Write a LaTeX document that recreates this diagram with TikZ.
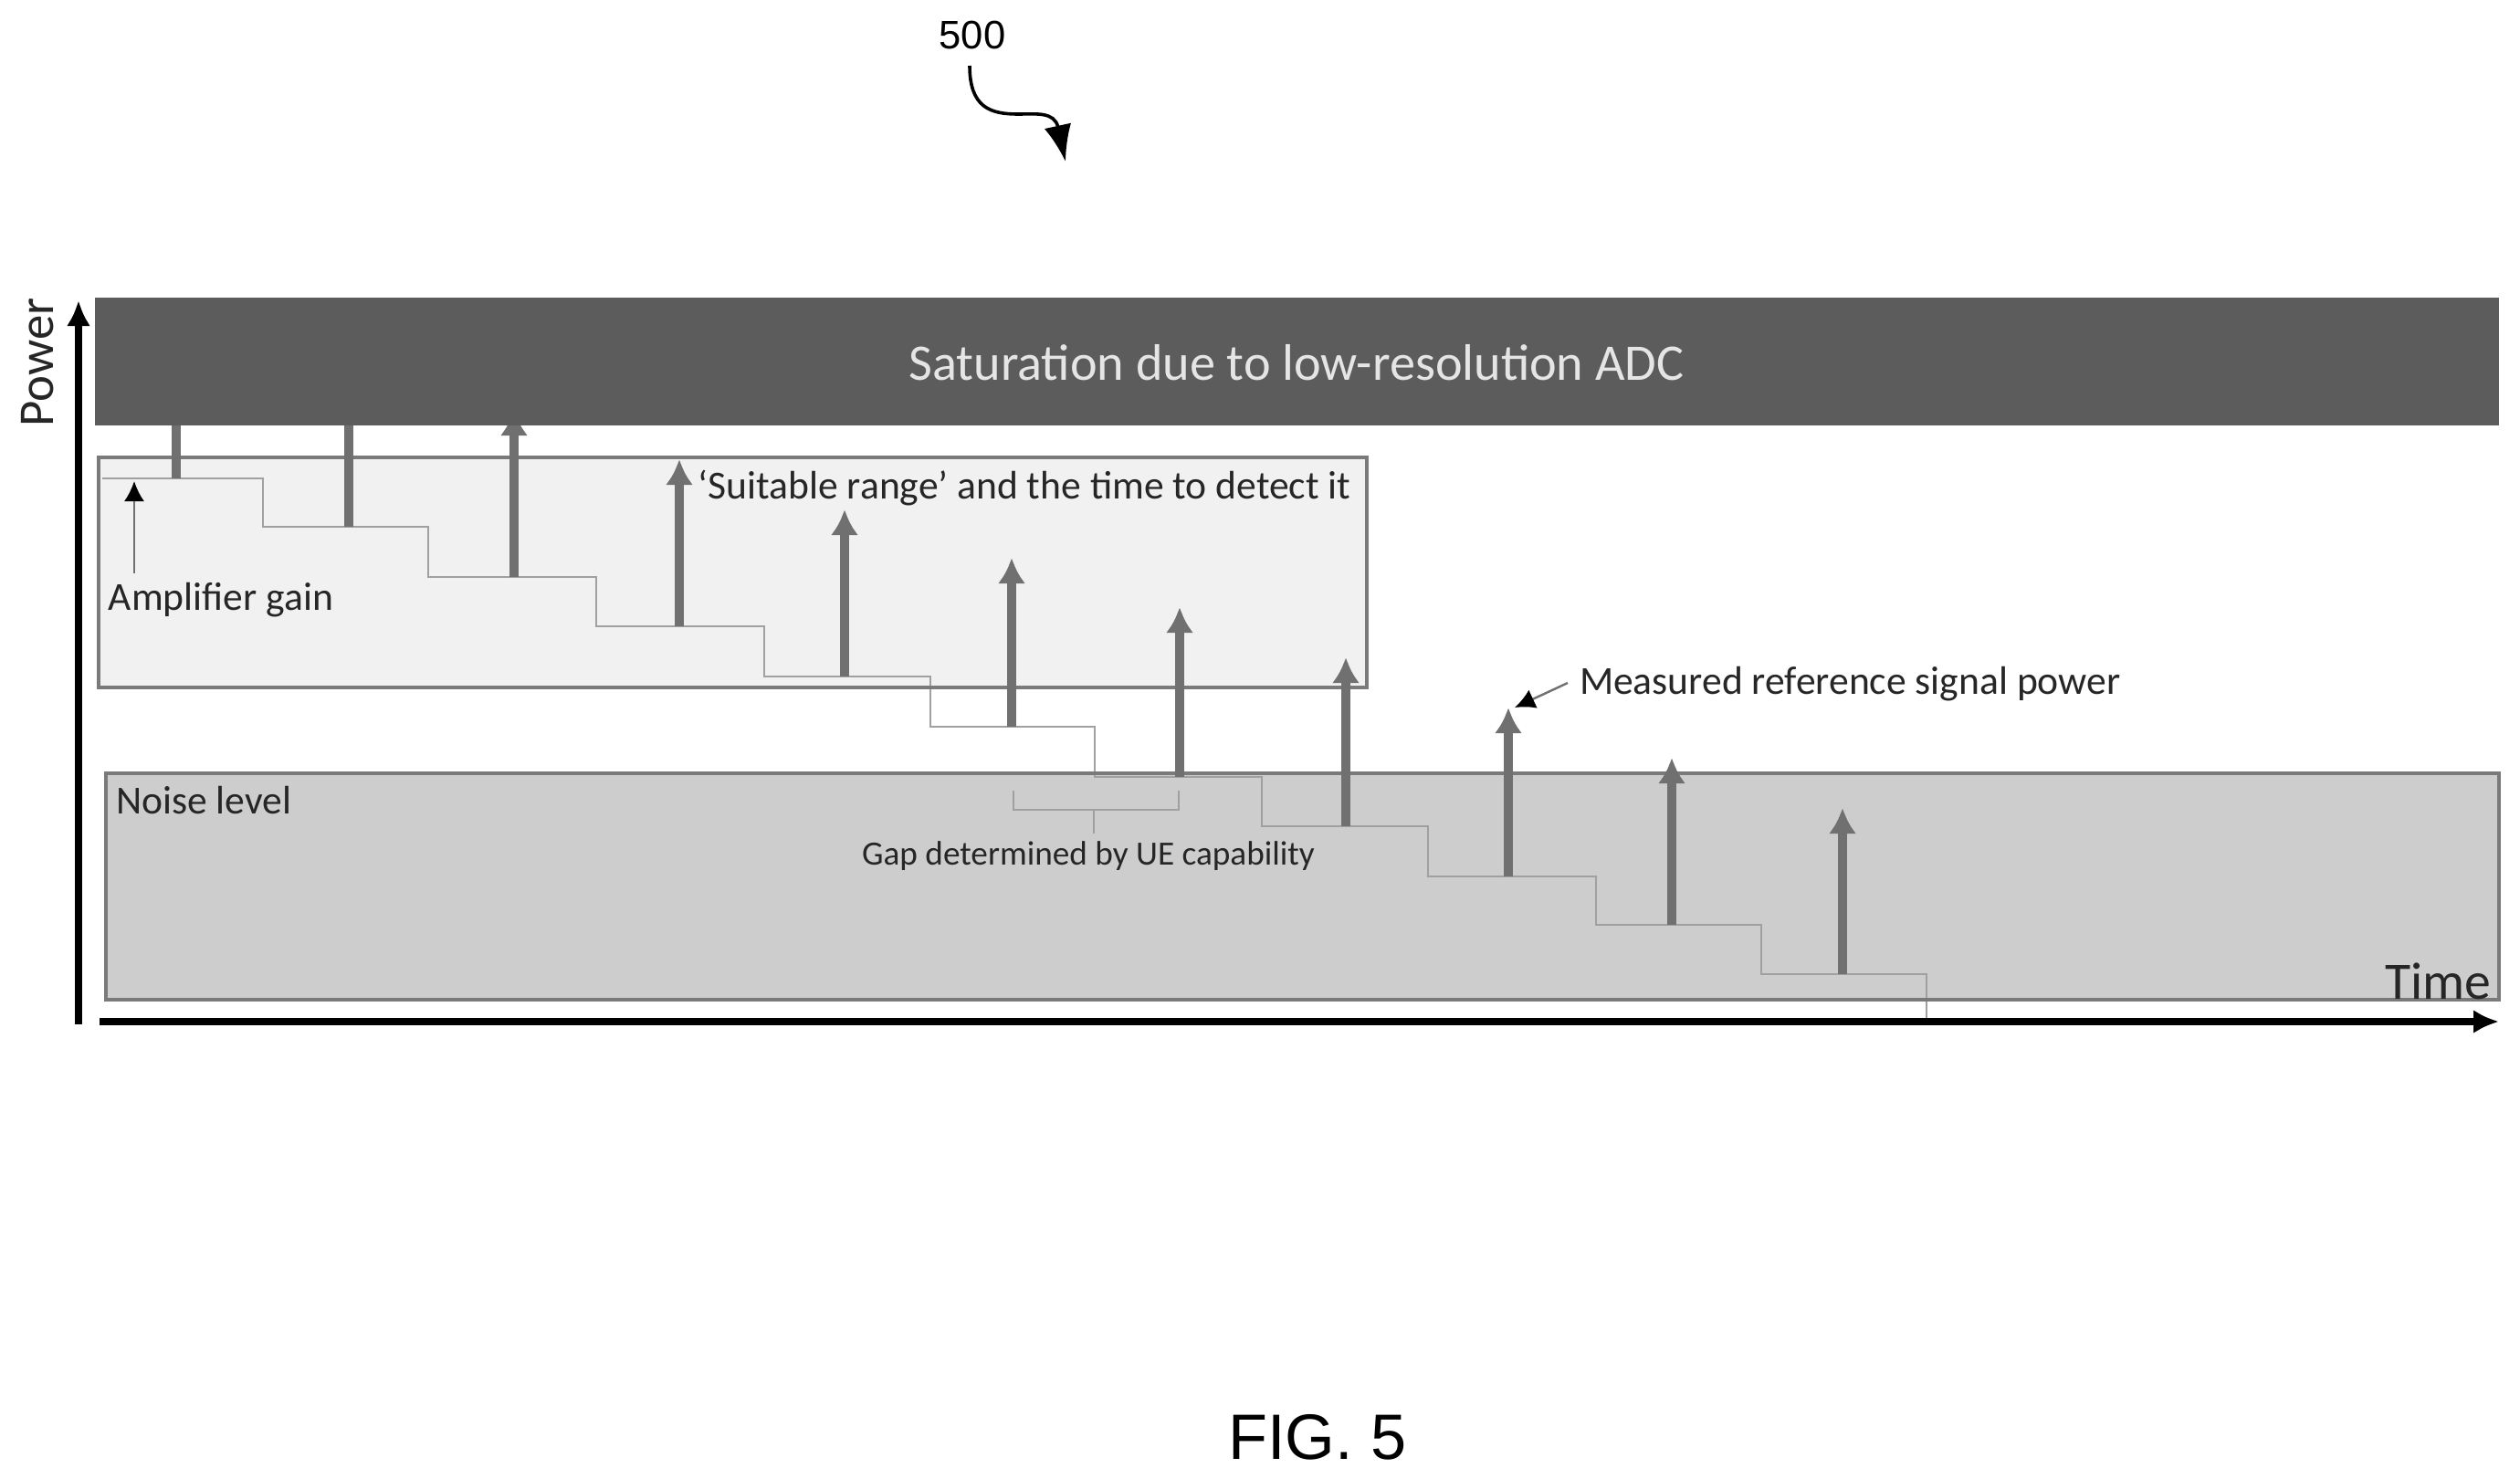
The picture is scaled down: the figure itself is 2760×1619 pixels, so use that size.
\documentclass[tikz,border=0pt]{standalone}
\usepackage{fontspec}
\setmainfont{Carlito}
\newfontfamily\figfont{Liberation Sans}
\usetikzlibrary{arrows.meta}
\definecolor{bandc}{HTML}{5C5C5C}
\definecolor{sigc}{HTML}{707070}
\definecolor{edgec}{HTML}{7A7A7A}
\definecolor{stairc}{HTML}{A0A0A0}
\definecolor{noisec}{HTML}{CDCDCD}
\definecolor{rangec}{HTML}{F1F1F1}
\definecolor{inkc}{HTML}{262626}
\tikzset{
  x=0.25mm,y=-0.25mm,
  lbl/.style={inner sep=0,outer sep=0,text=inkc,font=\fontsize{#1}{#1}\selectfont},
  axisline/.style={black,line width=1.9mm,-{Latex[length=7mm,width=6.5mm]}},
  signal/.style={sigc,line width=2.3mm,-{Latex[length=7mm,width=7.5mm]}},
  pointer/.style={sigc,line width=0.6mm,-{Latex[length=5.5mm,width=5.5mm,black]}},
  stairline/.style={stairc,line width=0.6mm},
}
\begin{document}
\begin{tikzpicture}
\useasboundingbox[fill=white] (0,0) rectangle (2760,1619);
% reference numeral
\node[lbl=31,text=black,font=\figfont\fontsize{31}{31}\selectfont] (num) at (1065,38) {500};
\coordinate (numA) at (1062,72);
\coordinate (numB) at (1167,177);
\draw[black,line width=0.9mm,-{Latex[length=10mm,width=7.5mm]}] (numA) .. controls (1062,118) and (1085,125) .. (1115,125) .. controls (1135,125) and (1155,122) .. (numB);
% zones
\fill[rangec] (108,501) rectangle (1497,753);
\fill[noisec] (116,847) rectangle (2737,1095);
% stairs
\coordinate (s0) at (112,524);
\draw[stairline] (s0) -- (288,524) |- (469,577) |- (653,632) |- (837,686) |- (1019,741) |- (1199,796) |- (1382,851) |- (1564,905) |- (1748,960) |- (1929,1013) |- (2110,1067) -- (2110,1119);
% zone outlines
\draw[edgec,line width=1mm] (108,501) rectangle (1497,753);
\draw[edgec,line width=1mm] (116,847) rectangle (2737,1095);
% bracket
\draw[stairline] (1110,866) -- (1110,887) -- (1291,887) -- (1291,866);
\draw[stairline] (1198,887) -- (1198,913);
% signal arrows
\foreach \i/\sx/\base/\tip in {1/193/524/400,2/382/577/400,3/563/632/449,4/744/686/503,5/925/741/558,6/1108/796/611,7/1292/851/665,8/1474/905/720,9/1652/960/775,10/1831/1013/830,11/2018/1067/885}{
  \coordinate (b\i) at (\sx,\base);
  \coordinate (t\i) at (\sx,\tip);
  \draw[signal] (b\i) -- (t\i);
}
% saturation band
\fill[bandc] (104,326) rectangle (2737,466);
\node[lbl=40,text=white!90!black] (sat) at (1420,397) {Saturation due to low-resolution ADC};
% axes
\coordinate (o1) at (86,1122);
\coordinate (p1) at (86,329);
\coordinate (o2) at (109,1119);
\coordinate (p2) at (2737,1119);
\draw[axisline] (o1) -- (p1);
\draw[axisline] (o2) -- (p2);
\node[lbl=39,rotate=90] (pw) at (41,397) {Power};
\node[lbl=41] (tm) at (2670,1075) {Time};
% labels
\node[lbl=31] (amp) at (242,657) {Amplifier gain};
\node[lbl=31] (sr) at (1122,535) {‘Suitable range’ and the time to detect it};
\node[lbl=31,anchor=west] (meas) at (1730,749) {Measured reference signal power};
\node[lbl=31,anchor=west] (nl) at (127,877) {Noise level};
\node[lbl=26.5] (gap) at (1192,938) {Gap determined by UE capability};
\node[lbl=48,text=black,font=\figfont\fontsize{50}{50}\selectfont] (fig) at (1443,1574) {FIG. 5};
% pointers
\coordinate (a1) at (147,628);
\coordinate (a2) at (147,527);
\draw[pointer] (a1) -- (a2);
\coordinate (m1) at (1717,748);
\coordinate (m2) at (1659,775);
\draw[pointer] (m1) -- (m2);
\end{tikzpicture}
\end{document}
